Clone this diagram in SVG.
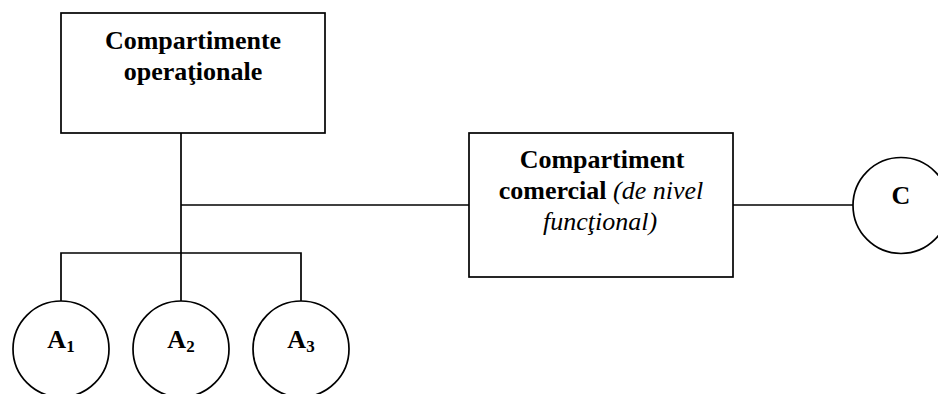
<svg xmlns="http://www.w3.org/2000/svg" width="938" height="394" viewBox="0 0 938 394">
<style>
.shape{fill:#fff;stroke:#000;stroke-width:1.7}
.ln{fill:none;stroke:#000;stroke-width:1.7}
text{font-family:"Liberation Serif","Times New Roman",serif;font-size:26px;fill:#000;text-anchor:middle}
.b{font-weight:bold}
.i{font-style:italic;font-weight:normal}
.sub{font-size:17px}
</style>
<rect width="938" height="394" fill="#fff"/>
<g id="connectors">
<path class="ln" d="M181,133 V301"/>
<path class="ln" d="M61,301 V253 H301 V301"/>
<path class="ln" d="M181,205 H469"/>
<path class="ln" d="M733,205 H853"/>
</g>
<g id="op">
<rect class="shape" x="61" y="13" width="264" height="120"/>
<text class="b" x="193" y="49">Compartimente</text>
<text class="b" x="193" y="80">operaţionale</text>
</g>
<g id="com">
<rect class="shape" x="469" y="133" width="264" height="144"/>
<text class="b" x="602" y="168">Compartiment</text>
<text x="601" y="199"><tspan class="b">comercial</tspan> <tspan class="i">(de nivel</tspan></text>
<text class="i" x="600" y="230">funcţional)</text>
</g>
<g id="c">
<circle class="shape" cx="901" cy="205.5" r="48"/>
<text class="b" x="901" y="204">C</text>
</g>
<g id="a1">
<circle class="shape" cx="61" cy="349" r="48"/>
<text class="b" x="61" y="348">A<tspan class="sub" dy="4">1</tspan></text>
</g>
<g id="a2">
<circle class="shape" cx="181" cy="349" r="48"/>
<text class="b" x="181" y="348">A<tspan class="sub" dy="4">2</tspan></text>
</g>
<g id="a3">
<circle class="shape" cx="301" cy="349" r="48"/>
<text class="b" x="301" y="348">A<tspan class="sub" dy="4">3</tspan></text>
</g>
</svg>
